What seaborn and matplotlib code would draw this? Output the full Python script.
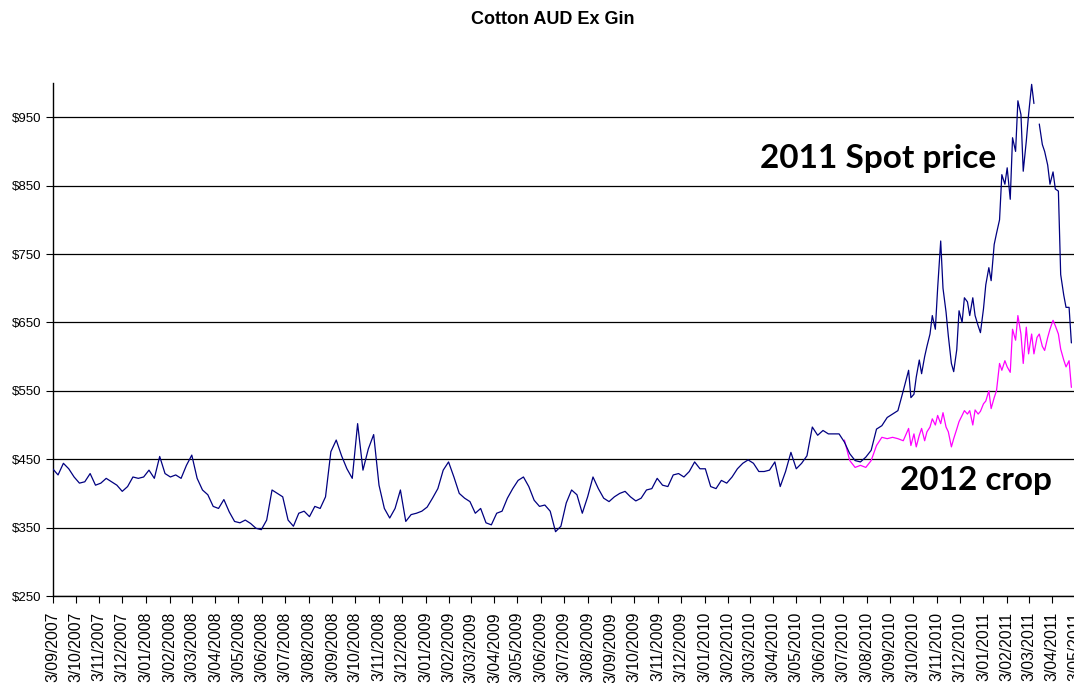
import numpy as np
import pandas as pd
import matplotlib
matplotlib.use("Agg")
import matplotlib.pyplot as plt
import seaborn as sns

title = "Cotton AUD Ex Gin"
label_spot = "2011 Spot price"
label_crop = "2012 crop"

# weekly spot prices (AUD/bale), Mondays from 3 Sep 2007
spot_weekly = [
    436, 427, 444, 436, 424, 415, 417, 429, 412, 415, 422, 417, 412, 403, 410, 424,
    422, 424, 434, 422, 454, 429, 424, 427, 422, 441, 456, 422, 405, 398, 381, 378,
    391, 373, 359, 357, 361,
    356, 349, 347, 361, 405, 400, 395, 361, 352, 371, 374, 366, 381, 378, 395, 461,
    478, 455, 436, 422, 502, 434, 465, 486, 412, 378, 364, 378, 405, 359, 369, 371,
    374, 380, 393,
    407, 434, 446, 424, 400, 393, 388, 371, 378, 357, 354, 371, 374, 393, 407, 419,
    424, 410, 390, 381, 383, 374, 344, 352, 386, 405, 398, 371, 395, 424, 407, 393,
    388, 395, 400,
    403, 395, 389, 393, 405, 407, 422, 412, 410, 427, 429, 424, 432, 446, 436, 436,
    410, 407, 419, 415, 424, 436, 444, 449, 444, 432, 432, 434, 446, 410, 432, 460,
    436, 444, 455, 497,
    485, 492, 487, 487, 487, 475, 458, 448, 446, 453, 463, 494, 499, 511, 516, 521,
    550,
]

# twice-weekly spot prices (Mon / Thu) from 27 Sep 2010
spot_late = [
    580, 540, 545, 570, 595, 575, 600, 615, 633, 660, 640, 700, 769, 700, 665, 630,
    590, 578, 610, 667, 650, 686, 680, 660, 686, 660, 645, 635, 670, 705, 730, 711,
    764, 780, 800, 866, 852, 876, 830, 920, 900, 974, 954, 871, 915, 954, 998, 970,
    np.nan, 940, 910, 900, 880, 852, 870, 845, 842, 720, 690, 672, 672, 620,
]

# 2012 crop forward price, weekly from 5 Jul 2010
crop_weekly = [478, 448, 438, 441, 438, 448, 470, 482, 480, 482, 480, 477]

# 2012 crop forward price, twice weekly from 27 Sep 2010
crop_late = [
    495, 470, 487, 468, 485, 495, 477, 490, 497, 509, 500, 514, 502, 518, 497, 490,
    468, 480, 494, 505, 514, 521, 516, 521, 500, 522, 516, 520, 531, 535, 550, 524,
    540, 550, 590, 580, 594, 585, 577, 640, 624, 660, 633, 590, 643, 604, 633, 604,
    628, 633, 615, 609, 628, 640, 653, 645, 633, 611, 595, 585, 594, 555,
]

y_ticks = [250, 350, 450, 550, 650, 750, 850, 950]

weekly_dates = pd.date_range("2007-09-03", periods=len(spot_weekly), freq="7D")
mondays = pd.date_range("2010-09-27", periods=len(spot_late) // 2, freq="7D")
late_dates = sorted(list(mondays) + list(mondays + pd.Timedelta(days=3)))
crop_weekly_dates = weekly_dates[-len(crop_weekly):]

spot = pd.DataFrame({"date": list(weekly_dates) + list(late_dates),
                     "price": spot_weekly + spot_late})
spot["seg"] = spot["price"].isna().cumsum()
spot = spot.dropna()

crop = pd.DataFrame({"date": list(crop_weekly_dates) + list(late_dates),
                     "price": crop_weekly + crop_late})

sns.set_theme(style="white")
plt.rcParams["font.family"] = ["Liberation Sans Narrow", "Liberation Sans", "DejaVu Sans"]

W, H = 1074, 683
fig = plt.figure(figsize=(W / 100, H / 100), dpi=100)
fig.patch.set_facecolor("white")

x0 = pd.Timestamp("2007-09-03")
x1 = pd.Timestamp("2011-05-20")
px_per_day = 0.7642
left_px = 52.7
right_px = left_px + (x1 - x0).days * px_per_day
top_px, bot_px = 83, 596
ax = fig.add_axes([left_px / W, 1 - bot_px / H, (right_px - left_px) / W, (bot_px - top_px) / H])
ax.set_facecolor("white")

sns.lineplot(data=crop, x="date", y="price", color="#FF00FF", lw=0.9, ax=ax,
             estimator=None, zorder=3)
sns.lineplot(data=spot, x="date", y="price", units="seg", estimator=None,
             color="#000080", lw=0.9, ax=ax, zorder=4)

ax.set_xlim(x0, x1)
ax.set_ylim(250, 1000)
ax.set_xlabel("")
ax.set_ylabel("")

ax.set_yticks(y_ticks)
ax.set_yticklabels([f"${v}" for v in y_ticks])
ax.yaxis.grid(True, color="black", lw=0.9)
ax.xaxis.grid(False)
ax.set_axisbelow(True)

month_ticks = pd.date_range("2007-09-01", "2011-05-01", freq="MS") + pd.Timedelta(days=2)
ax.set_xticks(month_ticks)
ax.set_xticklabels([f"{d.day}/{d.month:02d}/{d.year}" for d in month_ticks],
                   rotation=90, va="top", ha="center")

ax.tick_params(axis="both", direction="out", length=5, width=0.8, color="black",
               left=True, bottom=True, colors="black")
ax.tick_params(axis="y", labelsize=9.5, pad=3)
ax.tick_params(axis="x", labelsize=11.3, pad=6.5)

for s in ["top", "right"]:
    ax.spines[s].set_visible(False)
for s in ["left", "bottom"]:
    ax.spines[s].set_visible(True)
    ax.spines[s].set_color("black")
    ax.spines[s].set_linewidth(1.0)

fig.text(553 / W, 1 - 19 / H, title, ha="center", va="center", fontsize=13,
         fontweight="bold", color="black")

fig.text(760 / W, 1 - 168 / H, label_spot, ha="left", va="baseline", fontsize=24,
         fontweight="bold", family=["Lato", "DejaVu Sans"], color="black")
fig.text(900 / W, 1 - 490 / H, label_crop, ha="left", va="baseline", fontsize=24,
         fontweight="bold", family=["Lato", "DejaVu Sans"], color="black")

fig.savefig("out.png", dpi=100, facecolor="white")
